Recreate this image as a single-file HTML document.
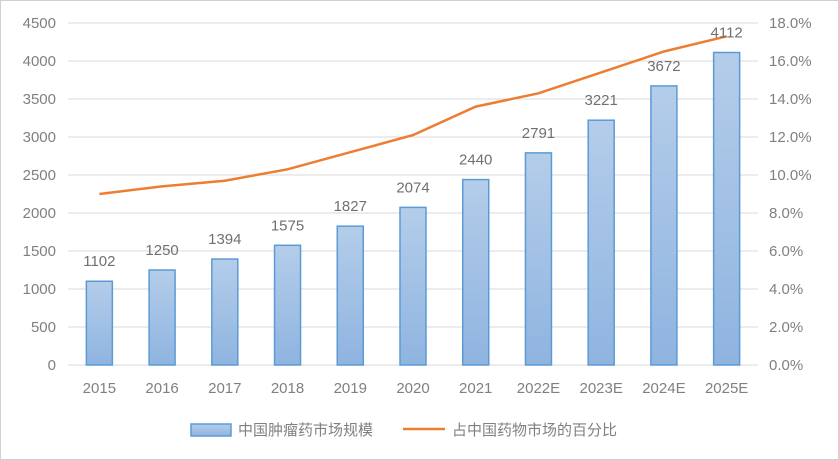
<!DOCTYPE html>
<html><head><meta charset="utf-8"><style>
body{margin:0;background:#fff}
svg{display:block;font-family:"Liberation Sans","Noto Sans CJK SC",sans-serif}
</style></head><body>
<svg id="c" width="839" height="460">
<defs><linearGradient id="g" x1="0" y1="0" x2="0" y2="1"><stop offset="0" stop-color="#b4cdea"/><stop offset="1" stop-color="#8fb4e0"/></linearGradient></defs>
<rect x="0.5" y="0.5" width="838" height="459" fill="#fff" stroke="#d0d0d0"/>
<g id="grid"></g><g id="bars"></g><g id="line"></g><g id="labels"></g>
<g>
<rect x="191" y="424" width="40" height="12" fill="url(#g)" stroke="#5b9bd5" stroke-width="1.5"/>
<text x="238" y="435" font-size="15" fill="#808080">中国肿瘤药市场规模</text>
<line x1="403" y1="429" x2="445" y2="429" stroke="#ed7d31" stroke-width="2.5"/>
<text x="452" y="435" font-size="15" fill="#808080">占中国药物市场的百分比</text>
</g>
</svg>
<script>
const categories=["2015","2016","2017","2018","2019","2020","2021","2022E","2023E","2024E","2025E"];
const marketSize=[1102,1250,1394,1575,1827,2074,2440,2791,3221,3672,4112];
const sharePct=[9.0,9.4,9.7,10.3,11.2,12.1,13.6,14.3,15.4,16.5,17.3];
const leftTicks=[0,500,1000,1500,2000,2500,3000,3500,4000,4500];
const rightTicks=[0,2,4,6,8,10,12,14,16,18];
const NS="http://www.w3.org/2000/svg";
const x0=68,x1=758,yB=365,yT=23;
const yL=v=>yB-(v/4500)*(yB-yT);
const yR=v=>yB-(v/18)*(yB-yT);
const step=(x1-x0)/categories.length;
const xC=i=>x0+step*(i+0.5);
function mk(t,a,p){const e=document.createElementNS(NS,t);for(const k in a)e.setAttribute(k,a[k]);p.appendChild(e);return e;}
const G=document.getElementById('grid'),B=document.getElementById('bars'),L=document.getElementById('line'),T=document.getElementById('labels');
leftTicks.forEach(v=>{
 const l=mk('line',{x1:x0,x2:x1,y1:yL(v),y2:yL(v),stroke:'#d9d9d9','stroke-width':1},G);
 
 
 const t=mk('text',{x:56,y:yL(v)+5,'text-anchor':'end','font-size':15,fill:'#808080'},T);
 t.textContent=v;
 
 
});
rightTicks.forEach(v=>{
 const t=mk('text',{x:769,y:yR(v)+5,'font-size':15,fill:'#808080'},T);
 t.textContent=v.toFixed(1)+'%';
 
 
});
categories.forEach((c,i)=>{
 const h=yB-yL(marketSize[i]);
 const r=mk('rect',{x:xC(i)-13,y:yL(marketSize[i]),width:26,height:h,fill:'url(#g)',stroke:'#5b9bd5','stroke-width':1.5},B);
 
 
 const v=mk('text',{x:xC(i),y:yL(marketSize[i])-15,'text-anchor':'middle','font-size':15,fill:'#707070'},T);
 v.textContent=marketSize[i];
 
 
 const t=mk('text',{x:xC(i),y:393,'text-anchor':'middle','font-size':15,fill:'#808080'},T);
 t.textContent=c;
 
 
});
const p=mk('polyline',{points:sharePct.map((v,i)=>xC(i)+','+yR(v)).join(' '),fill:'none',stroke:'#ed7d31','stroke-width':2.5},L);


</script>
</body></html>
